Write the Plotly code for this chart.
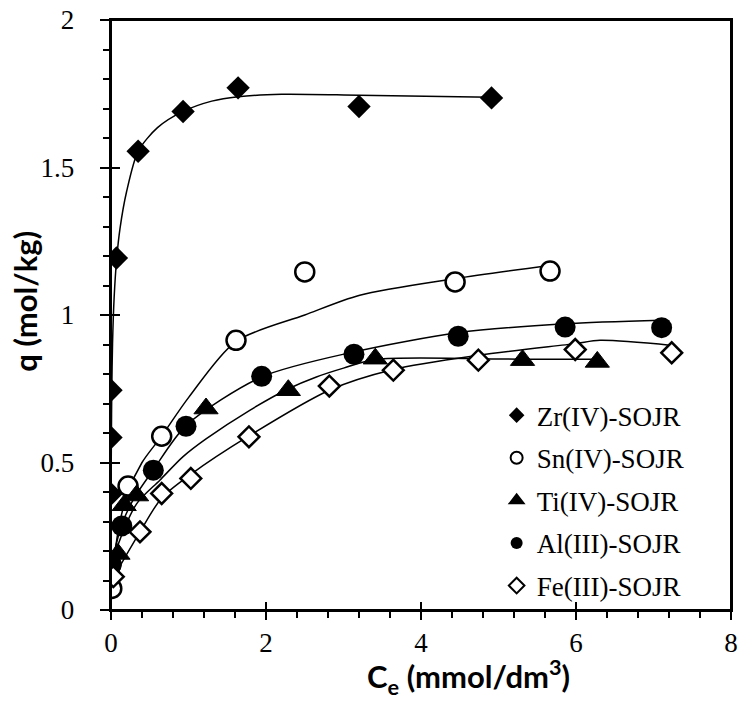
import plotly.graph_objects as go

# ---- data ----
series_names = ["Zr(IV)-SOJR", "Sn(IV)-SOJR", "Ti(IV)-SOJR", "Al(III)-SOJR", "Fe(III)-SOJR"]

zr_x = [0.0, 0.0, 0.0, 0.07, 0.35, 0.93, 1.64, 3.20, 4.91]
zr_y = [0.393, 0.585, 0.745, 1.193, 1.555, 1.690, 1.770, 1.707, 1.736]
sn_x = [0.0, 0.01, 0.22, 0.654, 1.613, 2.50, 4.44, 5.665]
sn_y = [0.155, 0.073, 0.420, 0.589, 0.914, 1.146, 1.112, 1.149]
ti_x = [0.09, 0.17, 0.33, 1.226, 2.288, 3.41, 5.31, 6.275]
ti_y = [0.190, 0.355, 0.388, 0.683, 0.745, 0.852, 0.847, 0.841]
al_x = [0.0, 0.14, 0.546, 0.968, 1.944, 3.135, 4.48, 5.86, 7.105]
al_y = [0.152, 0.285, 0.474, 0.623, 0.792, 0.867, 0.928, 0.959, 0.957]
fe_x = [0.03, 0.374, 0.654, 1.03, 1.78, 2.817, 3.643, 4.74, 5.99, 7.235]
fe_y = [0.113, 0.265, 0.395, 0.446, 0.587, 0.759, 0.813, 0.847, 0.883, 0.872]

# fitted isotherm curves
zr_fit_x = [0.0, 0.005, 0.01, 0.02, 0.04, 0.073, 0.116, 0.2, 0.35, 0.6, 0.93, 1.3, 1.64, 2.2, 3.2, 4.91]
zr_fit_y = [0.393, 0.585, 0.745, 0.904, 1.057, 1.19, 1.293, 1.417, 1.555, 1.635, 1.69, 1.725, 1.740, 1.748, 1.745, 1.738]
sn_fit_x = [0.01, 0.1, 0.22, 0.4, 0.654, 1.0, 1.61, 2.5, 3.21, 4.44, 5.66]
sn_fit_y = [0.10, 0.28, 0.40, 0.50, 0.59, 0.72, 0.91, 1.00, 1.067, 1.123, 1.168]
ti_fit_x = [0.0, 0.09, 0.33, 0.63, 0.93, 1.226, 1.79, 2.29, 2.65, 3.0, 3.43, 5.32, 6.29]
ti_fit_y = [0.12, 0.22, 0.36, 0.44, 0.52, 0.58, 0.677, 0.75, 0.79, 0.82, 0.85, 0.85, 0.85]
al_fit_x = [0.0, 0.14, 0.3, 0.546, 0.968, 1.944, 3.135, 4.48, 5.86, 7.1]
al_fit_y = [0.15, 0.29, 0.38, 0.475, 0.625, 0.79, 0.875, 0.94, 0.97, 0.982]
fe_fit_x = [0.03, 0.374, 0.654, 1.03, 1.78, 2.817, 3.643, 4.74, 5.99, 6.31, 7.235]
fe_fit_y = [0.11, 0.265, 0.38, 0.46, 0.59, 0.745, 0.815, 0.863, 0.903, 0.914, 0.897]

x_ticks = [0, 2, 4, 6, 8]
y_ticks = [0, 0.5, 1, 1.5, 2]
y_tick_text = ["0", "0.5", "1", "1.5", "2"]

# ---- figure ----
fig = go.Figure()

fits = [(zr_fit_x, zr_fit_y), (sn_fit_x, sn_fit_y), (ti_fit_x, ti_fit_y),
        (al_fit_x, al_fit_y), (fe_fit_x, fe_fit_y)]
for fx, fy in fits:
    fig.add_trace(go.Scatter(x=fx, y=fy, mode="lines", showlegend=False, hoverinfo="skip",
                             line=dict(color="black", width=1.5, shape="spline", smoothing=0.8)))

points = [(zr_x, zr_y), (sn_x, sn_y), (ti_x, ti_y), (al_x, al_y), (fe_x, fe_y)]
styles = [
    dict(symbol="diamond", size=18, color="black", line=dict(color="black", width=0)),
    dict(symbol="circle", size=19, color="white", line=dict(color="black", width=2.5)),
    dict(symbol="triangle-up", size=21, color="black", line=dict(color="black", width=1)),
    dict(symbol="circle", size=21, color="black", line=dict(color="black", width=0)),
    dict(symbol="diamond", size=16, color="white", line=dict(color="black", width=2.5)),
]
for i, (name, (px, py), st) in enumerate(zip(series_names, points, styles)):
    fig.add_trace(go.Scatter(x=px, y=py, mode="markers", name=name, marker=st,
                             legendgroup="g%d" % i))

# helper trace for overlay axes (inner half of major ticks)
fig.add_trace(go.Scatter(x=[None], y=[None], xaxis="x2", yaxis="y2", showlegend=False, hoverinfo="skip"))

tick_font = dict(family="Liberation Serif", size=27, color="black")
title_font = dict(family="Lato", size=31, color="black")
pad = "\u00a0\u00a0\u00a0"

fig.update_layout(
    width=740, height=701,
    margin=dict(l=111, r=9, t=20, b=91),
    paper_bgcolor="white", plot_bgcolor="white",
    showlegend=True,
    legend=dict(x=0.622, y=0.371, xanchor="left", yanchor="top",
                font=dict(family="Liberation Serif", size=27, color="black"),
                itemsizing="constant", bgcolor="rgba(0,0,0,0)", tracegroupgap=4.5),
    xaxis=dict(range=[0, 8], tickvals=x_ticks, ticktext=[str(v) for v in x_ticks],
               showgrid=False, zeroline=False, showline=True, linecolor="black", linewidth=2,
               mirror=True, ticks="outside", ticklen=8, tickwidth=1.5, tickcolor="black",
               minor=dict(dtick=0.4, ticks="outside", ticklen=6, tickwidth=1.5, tickcolor="black"),
               tickfont=tick_font, automargin=False, ticklabeloverflow="allow"),
    yaxis=dict(range=[0, 2], tickvals=y_ticks, ticktext=[t + pad for t in y_tick_text],
               showgrid=False, zeroline=False, showline=True, linecolor="black", linewidth=2,
               mirror=True, ticks="outside", ticklen=9, tickwidth=1.5, tickcolor="black",
               minor=dict(dtick=0.1, ticks="outside", ticklen=6, tickwidth=1.5, tickcolor="black"),
               tickfont=tick_font, automargin=False, ticklabeloverflow="allow"),
    xaxis2=dict(range=[0, 8], overlaying="x", anchor="y2", side="bottom", tickvals=x_ticks,
                showticklabels=False, showgrid=False, zeroline=False, showline=False,
                ticks="inside", ticklen=8, tickwidth=1.5, tickcolor="black", automargin=False),
    yaxis2=dict(range=[0, 2], overlaying="y", anchor="x2", side="left", tickvals=y_ticks,
                showticklabels=False, showgrid=False, zeroline=False, showline=False,
                ticks="inside", ticklen=9, tickwidth=1.5, tickcolor="black", automargin=False),
    shapes=[dict(type="rect", xref="paper", yref="paper", x0=0, x1=1, y0=0, y1=1,
                 line=dict(color="black", width=2), fillcolor="rgba(0,0,0,0)", layer="above")],
    annotations=[
        dict(text="<b>C<sub>e</sub> (mmol/dm<sup>3</sup>)</b>", xref="paper", yref="paper",
             x=0.577, y=-0.113, xanchor="center", yanchor="middle", showarrow=False, font=title_font),
        dict(text="<b>q (mol/kg)</b>", xref="paper", yref="paper", textangle=-90,
             x=-0.139, y=0.524, xanchor="center", yanchor="middle", showarrow=False, font=title_font),
    ],
)

fig.write_html("out.html", config={"displayModeBar": False},
               post_script="document.body.style.margin='0';document.body.style.overflow='hidden';")
